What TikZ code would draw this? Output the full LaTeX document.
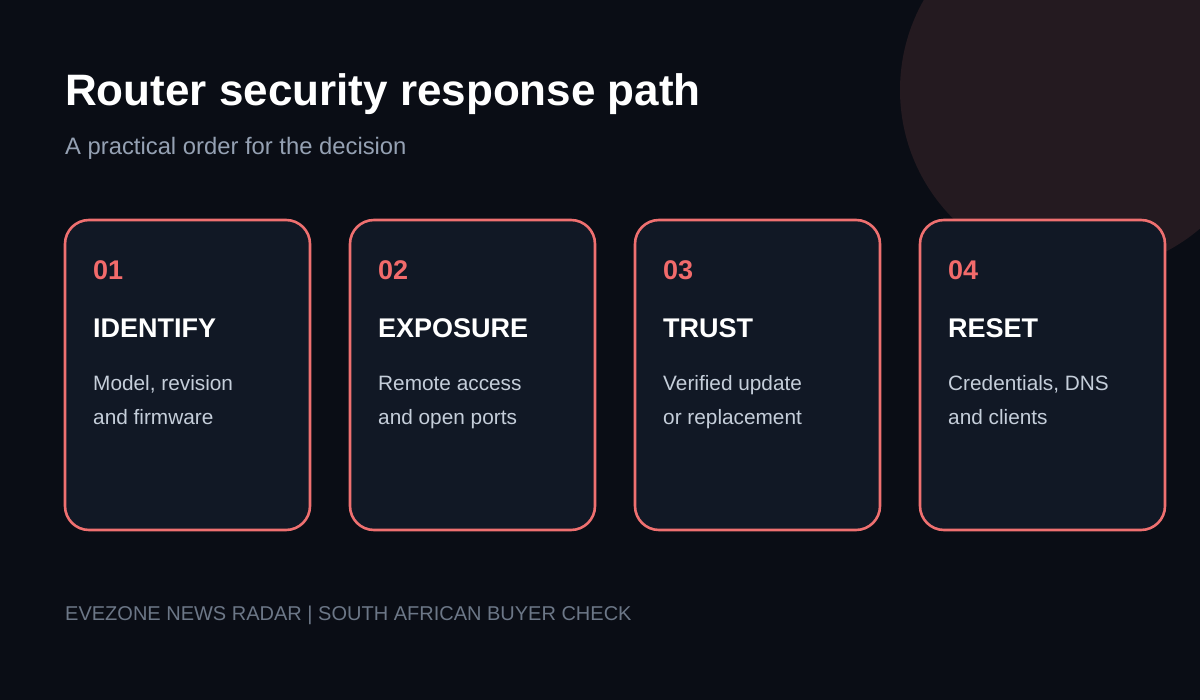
\documentclass[tikz,border=0pt]{standalone}
\usepackage{fontspec}
\setmainfont{Liberation Sans}
\definecolor{bg}{HTML}{0A0D15}
\definecolor{blob}{HTML}{241A20}
\definecolor{cardfill}{HTML}{111825}
\definecolor{cardline}{HTML}{EF7070}
\definecolor{numcol}{HTML}{F26B6B}
\definecolor{desccol}{HTML}{C5CEDA}
\definecolor{subcol}{HTML}{95A1B3}
\definecolor{footcol}{HTML}{6C7787}
\begin{document}
\begin{tikzpicture}[x=1pt,y=-1pt,
  card/.style={draw=cardline, line width=2.6pt, fill=cardfill, rounded corners=24pt},
  numtxt/.style={anchor=base west, inner sep=0pt, text=numcol, font=\fontsize{27}{32}\selectfont\bfseries},
  headtxt/.style={anchor=base west, inner sep=0pt, text=white, font=\fontsize{27}{31}\selectfont\bfseries},
  desctxt/.style={anchor=base west, inner sep=0pt, text=desccol, font=\fontsize{20.8}{25}\selectfont},
]
\useasboundingbox (0,0) rectangle (1200,700);
\fill[bg] (0,0) rectangle (1200,700);
\begin{scope}
\clip (0,0) rectangle (1200,700);
\fill[blob] (1082,90) circle[radius=182];
\end{scope}
\node[anchor=base west, inner sep=0pt, text=white, font=\fontsize{44}{50}\selectfont\bfseries] (title) at (65,106) {Router security response path};
\node[anchor=base west, inner sep=0pt, text=subcol, font=\fontsize{23.8}{28}\selectfont] (sub) at (65,155) {A practical order for the decision};
\foreach \i/\x/\n/\h/\a/\b in {1/65/01/IDENTIFY/{Model, revision}/{and firmware},
  2/350/02/EXPOSURE/{Remote access}/{and open ports},
  3/635/03/TRUST/{Verified update}/{or replacement},
  4/920/04/RESET/{Credentials, DNS}/{and clients}} {
  \draw[card] (\x,220) rectangle ++(245,310);
  \node[numtxt] (num\i) at (\x+28,280) {\n};
  \node[headtxt] (head\i) at (\x+28,338) {\h};
  \node[desctxt] (desca\i) at (\x+28,391) {\a};
  \node[desctxt] (descb\i) at (\x+28,425) {\b};
}
\node[anchor=base west, inner sep=0pt, text=footcol, font=\fontsize{20}{24}\selectfont] (foot) at (65,620) {EVEZONE NEWS RADAR | SOUTH AFRICAN BUYER CHECK};
\end{tikzpicture}
\end{document}
